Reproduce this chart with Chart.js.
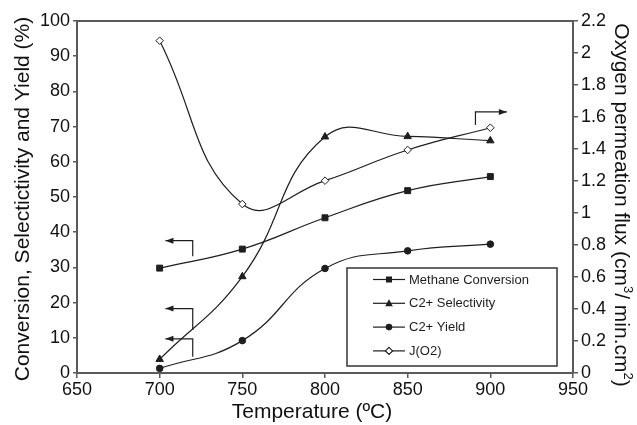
<!DOCTYPE html>
<html lang="en">
<head>
  <meta charset="UTF-8">
  <title>Temperature effect</title>
  <script src="https://cdn.jsdelivr.net/npm/chart.js"></script>
  <style>
    html, body { margin: 0; padding: 0; background: #fff; }
    canvas { display: block; }
  </style>
</head>
<body>
  <canvas id="tempChart" width="637" height="425"></canvas>

  <script>
    const temps = [700, 750, 800, 850, 900];
    const methaneConv = [29.8, 35.2, 44.1, 51.8, 55.8];
    const c2Selectivity = [3.9, 27.4, 67.1, 67.2, 66.0];
    const c2Yield = [1.3, 9.2, 29.7, 34.7, 36.6];
    const oxygenFlux = [2.077, 1.056, 1.202, 1.394, 1.533];
    const seriesNames = ['Methane Conversion', 'C2+ Selectivity', 'C2+ Yield', 'J(O2)'];

    const FONT = "'Liberation Sans', Arial, sans-serif";
    const INK = '#1e1e1e';
    const AXIS = '#5a5a5a';

    function toPoints(ys) {
      return temps.map((t, i) => ({ x: t, y: ys[i] }));
    }

    function seriesStyle(style, radius, fill) {
      return {
        borderColor: INK,
        borderWidth: 1.2,
        pointStyle: style,
        pointRadius: radius,
        pointBackgroundColor: fill,
        pointBorderColor: INK,
        pointBorderWidth: 1,
        tension: 0.45,
        fill: false
      };
    }

    // polyline with a filled head at the last point, dir = +1 right / -1 left
    function drawArrow(ctx, pts, dir) {
      ctx.beginPath();
      ctx.moveTo(pts[0][0], pts[0][1]);
      for (let i = 1; i < pts.length; i++) ctx.lineTo(pts[i][0], pts[i][1]);
      ctx.stroke();
      const [hx, hy] = pts[pts.length - 1];
      ctx.beginPath();
      ctx.moveTo(hx, hy);
      ctx.lineTo(hx - dir * 8, hy - 3);
      ctx.lineTo(hx - dir * 8, hy + 3);
      ctx.closePath();
      ctx.fill();
    }

    function marker(ctx, style, x, y) {
      ctx.beginPath();
      if (style === 'rect') {
        ctx.rect(x - 3, y - 3, 6, 6);
        ctx.fill();
      } else if (style === 'triangle') {
        ctx.moveTo(x, y - 4);
        ctx.lineTo(x + 3.8, y + 3);
        ctx.lineTo(x - 3.8, y + 3);
        ctx.closePath();
        ctx.fill();
      } else if (style === 'circle') {
        ctx.arc(x, y, 3.3, 0, Math.PI * 2);
        ctx.fill();
      } else {
        ctx.moveTo(x, y - 3.6);
        ctx.lineTo(x + 3.6, y);
        ctx.lineTo(x, y + 3.6);
        ctx.lineTo(x - 3.6, y);
        ctx.closePath();
        ctx.fillStyle = '#fff';
        ctx.fill();
        ctx.stroke();
      }
    }

    const decorations = {
      id: 'decorations',
      afterDraw(chart) {
        const { ctx, chartArea: area, scales } = chart;
        const x = scales.x, yl = scales.y, yr = scales.y1;
        ctx.save();

        // top frame line
        ctx.strokeStyle = AXIS;
        ctx.lineWidth = 2;
        ctx.beginPath();
        ctx.moveTo(area.left - 1, area.top);
        ctx.lineTo(area.right + 1, area.top);
        ctx.stroke();

        // axis pointers
        ctx.strokeStyle = INK;
        ctx.fillStyle = INK;
        ctx.lineWidth = 1.2;
        [[37.6, 33.2], [18.3, 12.2], [9.7, 4.6]].forEach(([yTop, yEnd]) => {
          const cx = x.getPixelForValue(720);
          drawArrow(ctx, [
            [cx, yl.getPixelForValue(yEnd)],
            [cx, yl.getPixelForValue(yTop)],
            [x.getPixelForValue(703.5), yl.getPixelForValue(yTop)]
          ], -1);
        });
        drawArrow(ctx, [
          [x.getPixelForValue(891), yr.getPixelForValue(1.55)],
          [x.getPixelForValue(891), yr.getPixelForValue(1.632)],
          [x.getPixelForValue(910), yr.getPixelForValue(1.632)]
        ], 1);

        // legend box
        const lx = 347, ly = 268, lw = 210, lh = 98;
        ctx.fillStyle = '#fff';
        ctx.fillRect(lx, ly, lw, lh);
        ctx.strokeStyle = '#333';
        ctx.lineWidth = 1.5;
        ctx.strokeRect(lx, ly, lw, lh);
        const styles = ['rect', 'triangle', 'circle', 'rectRot'];
        ctx.font = '13px ' + FONT;
        ctx.textBaseline = 'middle';
        ctx.textAlign = 'left';
        seriesNames.forEach((name, i) => {
          const ry = 279.5 + i * 23.8;
          ctx.strokeStyle = INK;
          ctx.lineWidth = 1.2;
          ctx.beginPath();
          ctx.moveTo(373, ry);
          ctx.lineTo(405, ry);
          ctx.stroke();
          ctx.fillStyle = INK;
          marker(ctx, styles[i], 389, ry);
          ctx.fillStyle = INK;
          ctx.fillText(name, 409, ry + 0.5);
        });

        // axis titles
        ctx.fillStyle = '#111';
        ctx.font = '21px ' + FONT;
        ctx.textAlign = 'center';
        ctx.textBaseline = 'middle';
        ctx.fillText('Temperature (ºC)', 312, 412);

        ctx.save();
        ctx.translate(23, 199);
        ctx.rotate(-Math.PI / 2);
        ctx.fillText('Conversion, Selectictivity and Yield (%)', 0, 0);
        ctx.restore();

        // right title with superscripts
        const parts = [
          ['Oxygen permeation flux (cm', false],
          ['3', true],
          ['/ min.cm', false],
          ['2', true],
          [')', false]
        ];
        const big = '21px ' + FONT, small = '13px ' + FONT;
        let total = 0;
        parts.forEach(([t, sup]) => {
          ctx.font = sup ? small : big;
          total += ctx.measureText(t).width;
        });
        ctx.save();
        ctx.translate(621, 205);
        ctx.rotate(Math.PI / 2);
        ctx.textAlign = 'left';
        let px = -total / 2;
        parts.forEach(([t, sup]) => {
          ctx.font = sup ? small : big;
          ctx.fillText(t, px, sup ? -7 : 0);
          px += ctx.measureText(t).width;
        });
        ctx.restore();

        ctx.restore();
      }
    };

    const tickFont = { family: FONT, size: 18 };

    new Chart(document.getElementById('tempChart'), {
      type: 'line',
      data: {
        datasets: [
          Object.assign({ label: seriesNames[0], data: toPoints(methaneConv), yAxisID: 'y' }, seriesStyle('rect', 4.2, INK)),
          Object.assign({ label: seriesNames[1], data: toPoints(c2Selectivity), yAxisID: 'y' }, seriesStyle('triangle', 4.3, INK)),
          Object.assign({ label: seriesNames[2], data: toPoints(c2Yield), yAxisID: 'y' }, seriesStyle('circle', 3.3, INK)),
          Object.assign({ label: seriesNames[3], data: toPoints(oxygenFlux), yAxisID: 'y1' }, seriesStyle('rectRot', 3.8, '#fff'))
        ]
      },
      options: {
        responsive: false,
        animation: false,
        layout: { padding: { top: 21, left: 0, right: 0, bottom: 0 } },
        plugins: {
          legend: { display: false },
          tooltip: { enabled: false }
        },
        scales: {
          x: {
            type: 'linear',
            min: 650,
            max: 950,
            afterFit(s) { s.height = 52; },
            ticks: { stepSize: 50, font: tickFont, color: '#111', padding: 1 },
            grid: { drawOnChartArea: false, color: AXIS, tickLength: 5, lineWidth: 1.5 },
            border: { color: AXIS, width: 2 }
          },
          y: {
            position: 'left',
            min: 0,
            max: 100,
            afterFit(s) { s.width = 77; },
            ticks: { stepSize: 10, font: tickFont, color: '#111', padding: 3 },
            grid: { drawOnChartArea: false, color: AXIS, tickLength: 4, lineWidth: 1.5 },
            border: { color: AXIS, width: 2 }
          },
          y1: {
            position: 'right',
            min: 0,
            max: 2.2,
            afterFit(s) { s.width = 64; },
            ticks: {
              stepSize: 0.2,
              font: tickFont,
              color: '#111',
              padding: 3,
              callback: v => String(+v.toFixed(1))
            },
            grid: { drawOnChartArea: false, color: AXIS, tickLength: 5, lineWidth: 1.5 },
            border: { color: AXIS, width: 2 }
          }
        }
      },
      plugins: [decorations]
    });
  </script>
</body>
</html>
